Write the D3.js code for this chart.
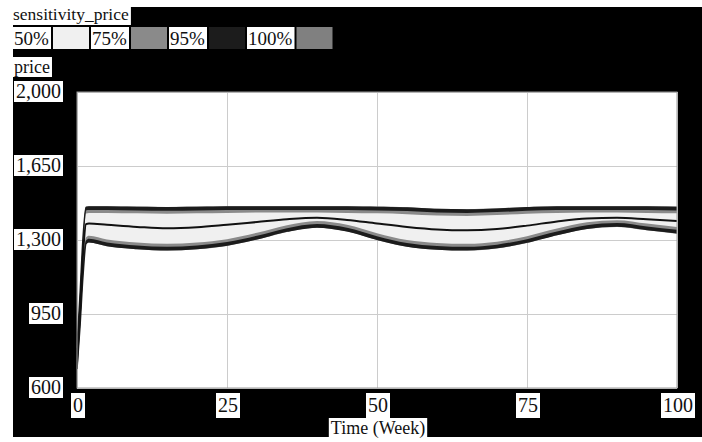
<!DOCTYPE html>
<html>
<head>
<meta charset="utf-8">
<script src="https://cdn.jsdelivr.net/npm/d3@7"></script>
<style>
  html, body { margin: 0; padding: 0; background: #fff; }
  svg { display: block; }
</style>
</head>
<body>
<svg id="chart" width="702" height="442"></svg>
<script>
// sensitivity run of price over time (weeks)
const time = [0, 0.5, 1, 1.5, 2, 5, 10, 15, 20, 25, 30, 35, 40, 45, 50, 55, 60, 65, 70, 75, 80, 85, 90, 95, 100];

// envelope bounds
const upper100 = [800, 1050, 1320, 1458, 1460, 1460, 1458, 1456, 1458, 1460, 1460, 1460, 1460, 1460, 1458, 1455, 1448, 1446, 1450, 1456, 1460, 1460, 1460, 1460, 1458];
const upper95 = [790, 1040, 1310, 1454, 1456, 1456, 1454, 1452, 1454, 1456, 1456, 1456, 1456, 1456, 1454, 1451, 1444, 1442, 1446, 1452, 1456, 1456, 1456, 1456, 1454];
const upper75 = [770, 1010, 1280, 1440, 1442, 1442, 1440, 1438, 1440, 1442, 1442, 1442, 1442, 1442, 1440, 1437, 1430, 1428, 1432, 1438, 1442, 1442, 1442, 1442, 1440];
const upper50 = [750, 980, 1250, 1425, 1428, 1428, 1426, 1424, 1426, 1428, 1430, 1430, 1430, 1428, 1426, 1422, 1416, 1414, 1418, 1424, 1428, 1430, 1430, 1428, 1426];
const lower50 = [720, 945, 1200, 1312, 1320, 1302, 1288, 1282, 1288, 1304, 1334, 1370, 1390, 1372, 1332, 1300, 1286, 1282, 1292, 1318, 1354, 1384, 1394, 1378, 1362];
const lower75 = [705, 915, 1160, 1298, 1306, 1288, 1274, 1268, 1274, 1290, 1320, 1356, 1376, 1358, 1318, 1286, 1272, 1268, 1278, 1304, 1340, 1370, 1380, 1364, 1348];
const lower95 = [690, 890, 1130, 1284, 1292, 1274, 1260, 1254, 1260, 1276, 1306, 1342, 1362, 1344, 1304, 1272, 1258, 1254, 1264, 1290, 1326, 1356, 1366, 1350, 1334];
const lower100 = [680, 880, 1120, 1280, 1288, 1270, 1256, 1250, 1256, 1272, 1302, 1338, 1358, 1340, 1300, 1268, 1254, 1250, 1260, 1286, 1322, 1352, 1362, 1346, 1330];

// base run drawn through the middle
const baseRun = [720, 960, 1230, 1375, 1378, 1372, 1362, 1355, 1360, 1372, 1385, 1398, 1405, 1395, 1378, 1362, 1350, 1346, 1352, 1368, 1388, 1402, 1405, 1398, 1390];

const legendLabels = ["50%", "75%", "95%", "100%"];
const legendColors = ["#f0f0f0", "#8a8a8a", "#1c1c1c", "#808080"];

const xTicks = [0, 25, 50, 75, 100];
const yTicks = [600, 950, 1300, 1650, 2000];

const FONT = "'Liberation Serif', 'DejaVu Serif', serif";

const svg = d3.select("#chart");

// black panel
svg.append("rect")
    .attr("x", 13).attr("y", 7)
    .attr("width", 689).attr("height", 430)
    .attr("fill", "#000");

const plot = {left: 77, right: 677, top: 92, bottom: 388};

const x = d3.scaleLinear().domain([0, 100]).range([plot.left, plot.right]);
const y = d3.scaleLinear().domain([600, 2000]).range([plot.bottom, plot.top]);

// plot background
svg.append("rect")
    .attr("x", plot.left).attr("y", plot.top)
    .attr("width", plot.right - plot.left).attr("height", plot.bottom - plot.top)
    .attr("fill", "#fff");

// grid
svg.append("g")
    .attr("transform", `translate(0,${plot.bottom})`)
    .call(d3.axisBottom(x).tickValues(xTicks).tickSize(-(plot.bottom - plot.top)).tickFormat(""))
    .call(g => g.select(".domain").remove())
    .selectAll("line").attr("stroke", "#cccccc");

svg.append("g")
    .attr("transform", `translate(${plot.left},0)`)
    .call(d3.axisLeft(y).tickValues(yTicks).tickSize(-(plot.right - plot.left)).tickFormat(""))
    .call(g => g.select(".domain").remove())
    .selectAll("line").attr("stroke", "#cccccc");

// sensitivity bands, widest first
const bands = [
    {lo: lower100, hi: upper100, color: legendColors[3]},
    {lo: lower95, hi: upper95, color: legendColors[2]},
    {lo: lower75, hi: upper75, color: legendColors[1]},
    {lo: lower50, hi: upper50, color: legendColors[0]}
];

const area = d3.area()
    .x(d => x(d.t))
    .y0(d => y(d.lo))
    .y1(d => y(d.hi))
    .curve(d3.curveMonotoneX);

bands.forEach(b => {
    const rows = time.map((t, i) => ({t: t, lo: b.lo[i], hi: b.hi[i]}));
    svg.append("path")
        .datum(rows)
        .attr("d", area)
        .attr("fill", b.color)
        .attr("stroke", "none");
});

const line = d3.line().x(d => x(d[0])).y(d => y(d[1])).curve(d3.curveMonotoneX);

// dark edges of the envelope
[upper95, lower95].forEach(arr => {
    svg.append("path")
        .datum(time.map((t, i) => [t, arr[i]]))
        .attr("d", line)
        .attr("fill", "none")
        .attr("stroke", "#1c1c1c")
        .attr("stroke-width", 1.5);
});

svg.append("path")
    .datum(time.map((t, i) => [t, baseRun[i]]))
    .attr("d", line)
    .attr("fill", "none")
    .attr("stroke", "#111")
    .attr("stroke-width", 2);

// plot frame
svg.append("rect")
    .attr("x", plot.left).attr("y", plot.top)
    .attr("width", plot.right - plot.left).attr("height", plot.bottom - plot.top)
    .attr("fill", "none")
    .attr("stroke", "#9a9a9a");

// text on a white box
function boxLabel(tx, ty, str, anchor, size, box) {
    const g = svg.append("g");
    const t = g.append("text")
        .attr("x", tx).attr("y", ty)
        .attr("text-anchor", anchor)
        .attr("font-family", FONT)
        .attr("font-size", size)
        .attr("fill", "#111")
        .text(str);
    const bb = t.node().getBBox();
    const bx = box.x0 != null ? box.x0 : bb.x - 2;
    const bw = box.w != null ? box.w : bb.x + bb.width + 2 - bx;
    g.insert("rect", "text")
        .attr("x", bx).attr("y", box.y0)
        .attr("width", bw).attr("height", box.h)
        .attr("fill", "#fff");
    return bx + bw;
}

boxLabel(13, 20, "sensitivity_price", "start", 17.5, {x0: 12, y0: 4, h: 21});

// legend row
let lx = 13;
legendLabels.forEach((lab, i) => {
    const end = boxLabel(lx + 1, 45, lab, "start", 19, {x0: lx, y0: 27, h: 22});
    svg.append("rect")
        .attr("x", end + 2).attr("y", 27)
        .attr("width", 36).attr("height", 22)
        .attr("fill", legendColors[i]);
    lx = end + 2 + 36 + 2;
});

boxLabel(14, 73, "price", "start", 18, {x0: 13, y0: 57, h: 20});

// y tick labels
yTicks.forEach(v => {
    boxLabel(61, y(v) + 6, d3.format(",")(v), "end", 20, {y0: y(v) - 11, h: 21});
});

// x tick labels
xTicks.forEach(v => {
    boxLabel(x(v) + 1, 412, String(v), "middle", 20, {y0: 393, h: 25});
});

boxLabel(378, 434, "Time (Week)", "middle", 18, {y0: 418, h: 24});
</script>
</body>
</html>
